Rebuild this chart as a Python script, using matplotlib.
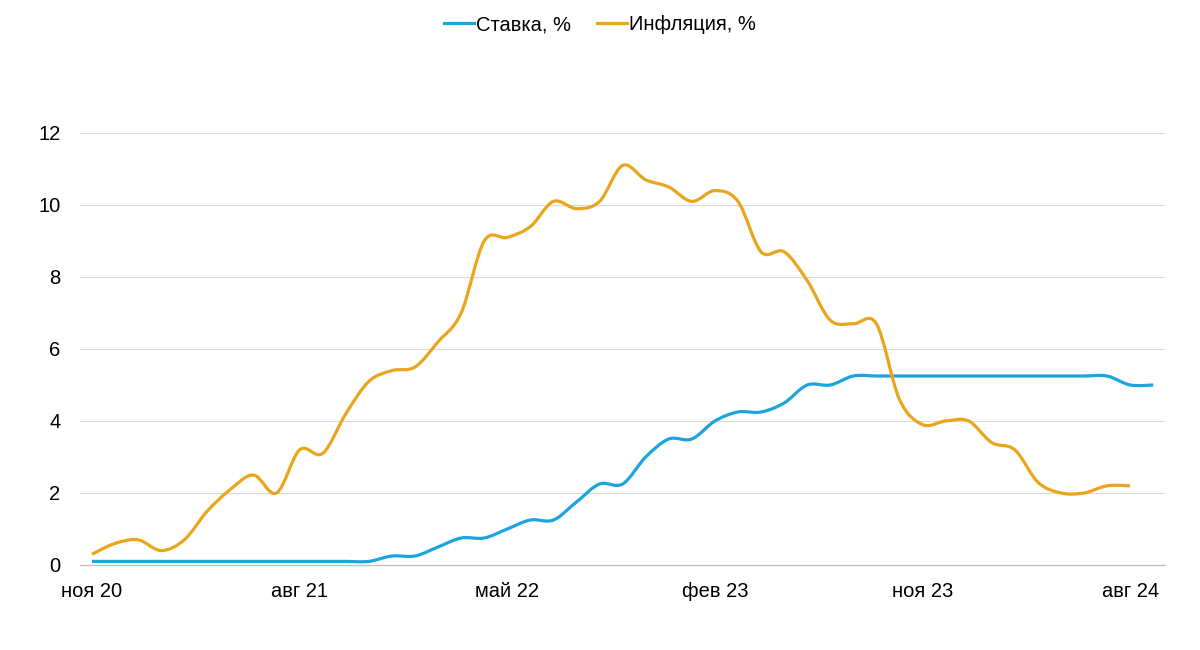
import numpy as np
import matplotlib
matplotlib.use('Agg')
import matplotlib.pyplot as plt
from matplotlib.path import Path
from matplotlib.patches import PathPatch
from matplotlib.lines import Line2D

# monthly values, Nov 2020 .. Sep 2024
rate = [0.1, 0.1, 0.1, 0.1, 0.1, 0.1, 0.1, 0.1, 0.1, 0.1, 0.1, 0.1, 0.1,
        0.25, 0.25, 0.5, 0.75, 0.75, 1.0, 1.25, 1.25, 1.75, 2.25, 2.25,
        3.0, 3.5, 3.5, 4.0, 4.25, 4.25, 4.5, 5.0, 5.0, 5.25, 5.25, 5.25,
        5.25, 5.25, 5.25, 5.25, 5.25, 5.25, 5.25, 5.25, 5.25, 5.0, 5.0]
# Nov 2020 .. Aug 2024
inflation = [0.3, 0.6, 0.7, 0.4, 0.7, 1.5, 2.1, 2.5, 2.0, 3.2, 3.1, 4.2,
             5.1, 5.4, 5.5, 6.2, 7.0, 9.0, 9.1, 9.4, 10.1, 9.9, 10.1, 11.1,
             10.7, 10.5, 10.1, 10.4, 10.1, 8.7, 8.7, 7.9, 6.8, 6.7, 6.7, 4.6,
             3.9, 4.0, 4.0, 3.4, 3.2, 2.3, 2.0, 2.0, 2.2, 2.2]
tick_pos = [0, 9, 18, 27, 36, 45]
tick_labels = ['ноя 20', 'авг 21', 'май 22', 'фев 23', 'ноя 23', 'авг 24']

BLUE = '#1BA5DF'
ORANGE = '#E9A51C'


def smooth_path(ys):
    # Catmull-Rom spline drawn as cubic Bezier segments (Excel-like smoothing)
    xs = np.arange(len(ys), dtype=float)
    ys = np.asarray(ys, dtype=float)
    pts = np.column_stack([xs, ys])
    verts = [pts[0]]
    codes = [Path.MOVETO]
    n = len(pts)
    for i in range(n - 1):
        p0 = pts[i - 1] if i > 0 else pts[i]
        p1 = pts[i]
        p2 = pts[i + 1]
        p3 = pts[i + 2] if i + 2 < n else pts[i + 1]
        c1 = p1 + (p2 - p0) / 6.0
        c2 = p2 - (p3 - p1) / 6.0
        verts += [c1, c2, p2]
        codes += [Path.CURVE4] * 3
    return Path(verts, codes)


plt.rcParams['font.family'] = ['Liberation Sans', 'DejaVu Sans']

fig = plt.figure(figsize=(12, 6.5), dpi=100)
ax = fig.add_axes([80 / 1200, 85 / 650, 1085 / 1200, 432 / 650])

for vals, col in ((rate, BLUE), (inflation, ORANGE)):
    ax.add_patch(PathPatch(smooth_path(vals), fill=False, edgecolor=col,
                           lw=2.3, capstyle='butt', joinstyle='round', zorder=3))

ax.set_xlim(-0.52, 46.51)
ax.set_ylim(0, 12)
ax.set_yticks(range(0, 13, 2))
ax.set_xticks(tick_pos)
ax.set_xticklabels(tick_labels)
ax.grid(axis='y', color='#D9D9D9', lw=0.8)
ax.set_axisbelow(True)
for s in ('top', 'right', 'left'):
    ax.spines[s].set_visible(False)
ax.spines['bottom'].set_color('#BFBFBF')
ax.spines['bottom'].set_linewidth(0.9)
ax.tick_params(axis='both', length=0, labelsize=14.5, colors='#000000')
ax.tick_params(axis='y', pad=14)
ax.tick_params(axis='x', pad=12)

handles = [Line2D([], [], color=BLUE, lw=2.3), Line2D([], [], color=ORANGE, lw=2.3)]
fig.legend(handles, ['Ставка, %', 'Инфляция, %'], loc='center',
           bbox_to_anchor=(0.5, 1 - 25 / 650), ncol=2, frameon=False,
           fontsize=14.5, handlelength=1.5, handletextpad=0.1, columnspacing=1.3)

fig.savefig('out.png', dpi=100)
